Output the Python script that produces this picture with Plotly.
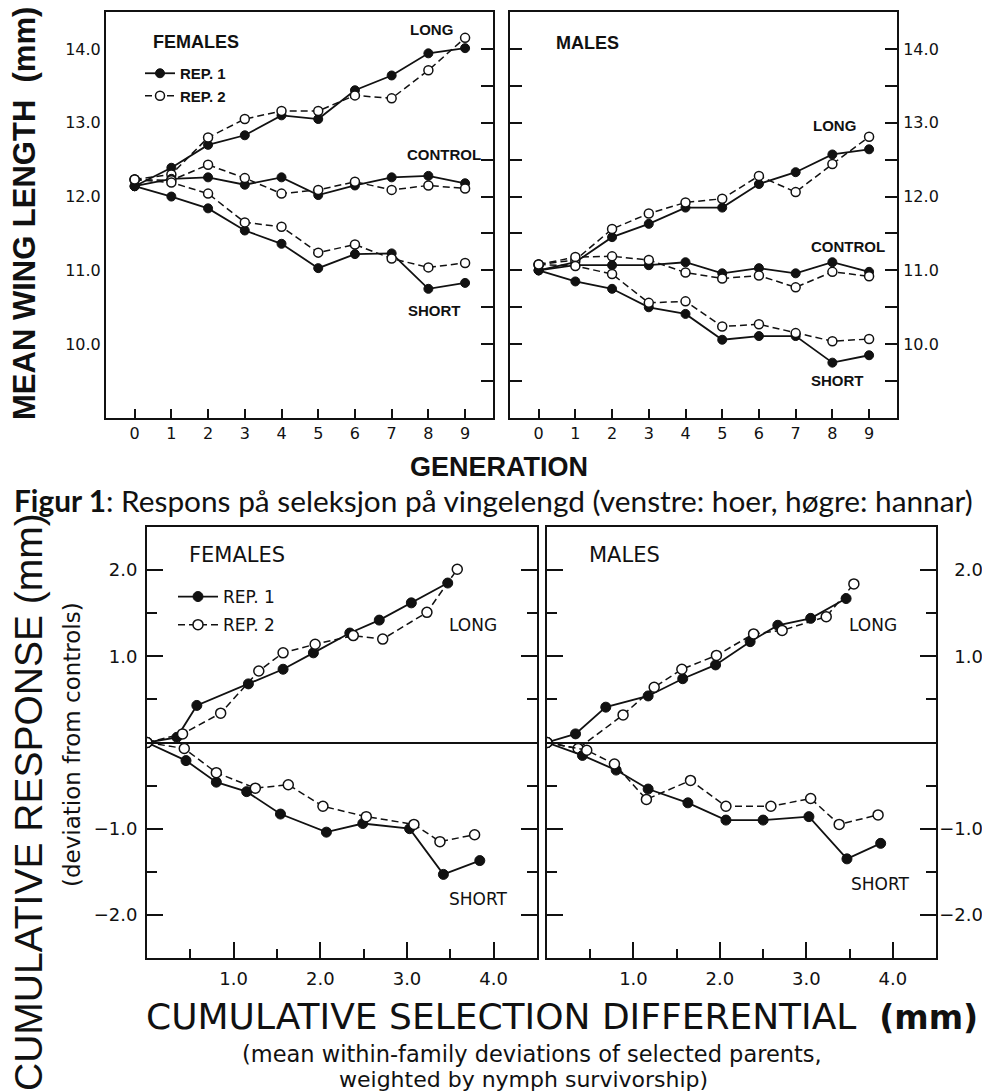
import plotly.graph_objects as go

# The page body has an 8px default margin, so the figure is sized to fill the
# remaining 982x1084 area of the 990x1092 window; all layout positions below are
# given in window pixels and converted with fx/fy.
PAGE_OFF = 8
W, H = 990 - PAGE_OFF, 1092 - PAGE_OFF

# ---------------- DATA ----------------
generations = [0, 1, 2, 3, 4, 5, 6, 7, 8, 9]

# Top-left: FEMALES mean wing length (mm)
f_long_rep1 = [12.14, 12.39, 12.70, 12.83, 13.10, 13.05, 13.44, 13.64, 13.94, 14.01]
f_long_rep2 = [12.23, 12.30, 12.80, 13.05, 13.16, 13.16, 13.37, 13.33, 13.71, 14.15]
f_ctrl_rep1 = [12.14, 12.24, 12.26, 12.16, 12.26, 12.02, 12.15, 12.26, 12.28, 12.18]
f_ctrl_rep2 = [12.23, 12.22, 12.43, 12.25, 12.04, 12.09, 12.20, 12.09, 12.15, 12.11]
f_short_rep1 = [12.14, 12.00, 11.84, 11.54, 11.36, 11.03, 11.22, 11.23, 10.75, 10.83]
f_short_rep2 = [12.23, 12.19, 12.04, 11.65, 11.59, 11.24, 11.35, 11.16, 11.04, 11.10]

# Top-right: MALES mean wing length (mm)
m_long_rep1 = [11.00, 11.11, 11.45, 11.63, 11.85, 11.85, 12.17, 12.33, 12.57, 12.64]
m_long_rep2 = [11.08, 11.14, 11.56, 11.77, 11.92, 11.97, 12.28, 12.06, 12.44, 12.81]
m_ctrl_rep1 = [11.00, 11.07, 11.07, 11.07, 11.11, 10.96, 11.03, 10.96, 11.11, 10.98]
m_ctrl_rep2 = [11.08, 11.18, 11.19, 11.14, 10.97, 10.89, 10.93, 10.77, 10.98, 10.92]
m_short_rep1 = [11.00, 10.85, 10.75, 10.50, 10.41, 10.06, 10.11, 10.11, 9.75, 9.85]
m_short_rep2 = [11.08, 11.06, 10.95, 10.56, 10.58, 10.24, 10.27, 10.15, 10.04, 10.07]

# Bottom-left: FEMALES cumulative selection differential (x) vs cumulative response (y)
fl1_x = [0, 0.345, 0.575, 1.17, 1.57, 1.92, 2.34, 2.68, 3.05, 3.47]
fl1_y = [0, 0.06, 0.43, 0.68, 0.85, 1.04, 1.27, 1.42, 1.62, 1.85]
fl2_x = [0, 0.41, 0.85, 1.29, 1.57, 1.94, 2.38, 2.72, 3.23, 3.58]
fl2_y = [0, 0.10, 0.34, 0.83, 1.04, 1.14, 1.24, 1.20, 1.51, 2.01]
fs1_x = [0, 0.45, 0.80, 1.15, 1.54, 2.07, 2.49, 3.03, 3.42, 3.84]
fs1_y = [0, -0.21, -0.46, -0.57, -0.83, -1.04, -0.94, -1.00, -1.53, -1.37]
fs2_x = [0, 0.43, 0.80, 1.25, 1.63, 2.03, 2.53, 3.08, 3.38, 3.78]
fs2_y = [0, -0.07, -0.35, -0.53, -0.49, -0.74, -0.86, -0.95, -1.15, -1.07]

# Bottom-right: MALES
ml1_x = [0, 0.33, 0.68, 1.17, 1.57, 1.95, 2.35, 2.67, 3.05, 3.46]
ml1_y = [0, 0.10, 0.41, 0.54, 0.74, 0.90, 1.17, 1.36, 1.44, 1.67]
ml2_x = [0, 0.36, 0.88, 1.24, 1.56, 1.96, 2.39, 2.72, 3.23, 3.55]
ml2_y = [0, -0.07, 0.32, 0.64, 0.85, 1.01, 1.26, 1.30, 1.46, 1.84]
ms1_x = [0, 0.41, 0.80, 1.17, 1.63, 2.07, 2.50, 3.03, 3.47, 3.86]
ms1_y = [0, -0.15, -0.32, -0.54, -0.70, -0.90, -0.90, -0.86, -1.35, -1.17]
ms2_x = [0, 0.46, 0.78, 1.15, 1.66, 2.07, 2.59, 3.05, 3.38, 3.83]
ms2_y = [0, -0.09, -0.25, -0.66, -0.44, -0.74, -0.74, -0.65, -0.95, -0.84]

top_y_ticks = [9.5, 10.0, 10.5, 11.0, 11.5, 12.0, 12.5, 13.0, 13.5, 14.0]
top_y_labels = ["" if v % 1 else f"{v:.1f}" for v in top_y_ticks]
bot_x_ticks = [1.0, 2.0, 3.0, 4.0]
bot_x_labels = [f"{v:.1f}" for v in bot_x_ticks]
bot_y_ticks = [-2.0, -1.0, 1.0, 2.0]
bot_y_labels = [f"{v:.1f}".replace("-", "\u2212") for v in bot_y_ticks]

# ---------------- HELPERS ----------------
def fx(p):
    return (p - PAGE_OFF) / W

def fy(p):
    return 1 - (p - PAGE_OFF) / H

HELV = "Liberation Sans, Arial, Helvetica, sans-serif"
WIDE = "DejaVu Sans, Verdana, sans-serif"
BLACK = "#111111"

fig = go.Figure()

def add_series(x, y, xa, ya, rep, name=None, legend=None, showlegend=False, msize=9):
    if rep == 1:
        line = dict(color=BLACK, width=1.8)
        marker = dict(symbol="circle", size=msize, color=BLACK, line=dict(color=BLACK, width=1))
    else:
        line = dict(color=BLACK, width=1.5, dash="7px,4px")
        marker = dict(symbol="circle", size=msize, color="white", line=dict(color=BLACK, width=1.5))
    kw = {}
    if legend:
        kw["legend"] = legend
    fig.add_trace(go.Scatter(x=x, y=y, xaxis=xa, yaxis=ya, mode="lines+markers",
                             line=line, marker=marker, name=name or "",
                             showlegend=showlegend, legendgroup=f"{legend}{rep}",
                             hoverinfo="skip", **kw))

# Top female
add_series(generations, f_long_rep1, "x", "y", 1, "REP. 1", "legend", True)
add_series(generations, f_long_rep2, "x", "y", 2, "REP. 2", "legend", True)
add_series(generations, f_ctrl_rep1, "x", "y", 1)
add_series(generations, f_ctrl_rep2, "x", "y", 2)
add_series(generations, f_short_rep1, "x", "y", 1)
add_series(generations, f_short_rep2, "x", "y", 2)
# Top male
add_series(generations, m_long_rep1, "x2", "y2", 1)
add_series(generations, m_long_rep2, "x2", "y2", 2)
add_series(generations, m_ctrl_rep1, "x2", "y2", 1)
add_series(generations, m_ctrl_rep2, "x2", "y2", 2)
add_series(generations, m_short_rep1, "x2", "y2", 1)
add_series(generations, m_short_rep2, "x2", "y2", 2)
# Bottom female
add_series(fl1_x, fl1_y, "x3", "y3", 1, "REP. 1", "legend2", True, 10)
add_series(fl2_x, fl2_y, "x3", "y3", 2, "REP. 2", "legend2", True, 10)
add_series(fs1_x, fs1_y, "x3", "y3", 1, msize=10)
add_series(fs2_x, fs2_y, "x3", "y3", 2, msize=10)
# Bottom male
add_series(ml1_x, ml1_y, "x4", "y4", 1, msize=10)
add_series(ml2_x, ml2_y, "x4", "y4", 2, msize=10)
add_series(ms1_x, ms1_y, "x4", "y4", 1, msize=10)
add_series(ms2_x, ms2_y, "x4", "y4", 2, msize=10)
# empty traces that activate the overlay axes
fig.add_trace(go.Scatter(x=[None], y=[None], xaxis="x", yaxis="y5", showlegend=False, hoverinfo="skip"))
fig.add_trace(go.Scatter(x=[None], y=[None], xaxis="x4", yaxis="y6", showlegend=False, hoverinfo="skip"))

top_tickfont = dict(family=WIDE, size=16, color=BLACK)
bot_tickfont = dict(family=WIDE, size=18, color=BLACK)
common_axis = dict(showline=True, linecolor=BLACK, linewidth=2, showgrid=False,
                   zeroline=False, tickcolor=BLACK)

top_x = dict(common_axis, range=[-0.78, 9.76], tickvals=generations, ticks="inside",
             ticklen=9, tickwidth=1.5, mirror=True, ticklabelstandoff=0, tickfont=top_tickfont)
top_y_dom = [fy(418), fy(12)]
bot_y_dom = [fy(958), fy(527)]

bot_minor_x = dict(dtick=0.5, tick0=0, ticks="inside", ticklen=9, tickwidth=1.5, tickcolor=BLACK)
bot_minor_y = dict(dtick=0.5, tick0=0, ticks="inside", ticklen=10, tickwidth=1.5, tickcolor=BLACK)

fig.update_layout(
    width=W, height=H, margin=dict(l=0, r=0, t=0, b=0),
    paper_bgcolor="white", plot_bgcolor="white",
    xaxis=dict(top_x, domain=[fx(106), fx(493)], anchor="y"),
    yaxis=dict(common_axis, domain=top_y_dom, anchor="x", range=[9.0, 14.5],
               tickvals=top_y_ticks, ticktext=top_y_labels, ticks="", mirror=True,
               ticklabelstandoff=0, tickfont=top_tickfont),
    yaxis5=dict(common_axis, domain=top_y_dom, anchor="x", overlaying="y", side="right",
                range=[9.0, 14.5], tickvals=top_y_ticks, ticks="inside", ticklen=12,
                tickwidth=1.5, showticklabels=False),
    xaxis2=dict(top_x, domain=[fx(510), fx(897)], anchor="y2"),
    yaxis2=dict(common_axis, domain=top_y_dom, anchor="x2", side="right", range=[9.0, 14.5],
                tickvals=top_y_ticks, ticktext=top_y_labels, ticks="inside", ticklen=12,
                tickwidth=1.5, mirror="allticks", ticklabelstandoff=1, tickfont=top_tickfont),
    xaxis3=dict(common_axis, domain=[fx(147), fx(537)], anchor="y3", range=[0, 4.5],
                tickvals=bot_x_ticks, ticktext=bot_x_labels, ticks="inside", ticklen=16,
                tickwidth=1.5, mirror=True, minor=bot_minor_x, ticklabelstandoff=3,
                tickfont=bot_tickfont),
    yaxis3=dict(common_axis, domain=bot_y_dom, anchor="x3", range=[-2.5, 2.5],
                tickvals=bot_y_ticks, ticktext=bot_y_labels, ticks="inside", ticklen=16,
                tickwidth=1.5, mirror="allticks", minor=bot_minor_y,
                zeroline=True, zerolinecolor=BLACK, zerolinewidth=1.6,
                ticklabelstandoff=4, tickfont=bot_tickfont),
    xaxis4=dict(common_axis, domain=[fx(547), fx(936)], anchor="y4", range=[0, 4.5],
                tickvals=bot_x_ticks, ticktext=bot_x_labels, ticks="inside", ticklen=16,
                tickwidth=1.5, mirror=True, minor=bot_minor_x, ticklabelstandoff=3,
                tickfont=bot_tickfont),
    yaxis4=dict(common_axis, domain=bot_y_dom, anchor="x4", side="right",
                range=[-2.5, 2.5], tickvals=bot_y_ticks, showticklabels=False,
                ticks="inside", ticklen=16, tickwidth=1.5, mirror="allticks", minor=bot_minor_y,
                zeroline=True, zerolinecolor=BLACK, zerolinewidth=1.6),
    # right-aligned tick labels at the far right of the bottom male panel
    yaxis6=dict(overlaying="y4", anchor="free", position=fx(983), side="left",
                range=[-2.5, 2.5], tickvals=bot_y_ticks, ticktext=bot_y_labels,
                ticks="", showline=False, showgrid=False, zeroline=False,
                tickfont=bot_tickfont, ticklabelstandoff=0),
    legend=dict(x=fx(140), y=fy(57), xanchor="left", yanchor="top", bgcolor="rgba(0,0,0,0)",
                font=dict(family=HELV, size=15, color=BLACK, weight="bold"),
                itemwidth=30, tracegroupgap=0),
    legend2=dict(x=fx(173), y=fy(579), xanchor="left", yanchor="top", bgcolor="rgba(0,0,0,0)",
                 font=dict(family=WIDE, size=17, color=BLACK),
                 itemwidth=40, traceorder="grouped", tracegroupgap=3),
)

def txt(text, x, y, size, bold=False, xanchor="left", angle=0, family=HELV, yanchor="middle"):
    fig.add_annotation(text=f"<b>{text}</b>" if bold else text, x=fx(x), y=fy(y),
                       xref="paper", yref="paper", xanchor=xanchor, yanchor=yanchor,
                       showarrow=False, textangle=angle,
                       font=dict(family=family, size=size, color=BLACK))

# Top panel texts
txt("FEMALES", 151, 42, 18, True)
txt("LONG", 408, 29, 15, True)
txt("CONTROL", 405, 154, 15, True)
txt("SHORT", 406, 310, 15, True)
txt("MALES", 554, 43, 18, True)
txt("LONG", 811, 126, 15, True)
txt("CONTROL", 809, 247, 15, True)
txt("SHORT", 809, 381, 15, True)
txt("MEAN WING LENGTH  (mm)", 25, 214, 31, True, xanchor="center", angle=-90)
txt("GENERATION", 499, 467, 27, True, xanchor="center")

# Caption
txt("<b>Figur 1</b>: Respons på seleksjon på vingelengd (venstre: hoer, høgre: hannar)",
    12, 500, 29.8, False, family="Lato, Carlito, Calibri, sans-serif")

# Bottom panel texts
txt("FEMALES", 187, 555, 21, family=WIDE)
txt("MALES", 587, 555, 21, family=WIDE)
txt("LONG", 447, 625, 17, family=WIDE)
txt("SHORT", 447, 899, 17, family=WIDE)
txt("LONG", 847, 625, 17, family=WIDE)
txt("SHORT", 849, 884, 17, family=WIDE)
txt("CUMULATIVE RESPONSE (mm)", 28, 802, 39, xanchor="center", angle=-90)
txt("(deviation from controls)", 72, 745, 23, xanchor="center", angle=-90, family=WIDE)
txt("CUMULATIVE SELECTION DIFFERENTIAL  <b><span style='font-size:33px'>(mm)</span></b>",
    144, 1016, 36, family=WIDE)
txt("(mean within-family deviations of selected parents,", 532, 1054, 22.5,
    xanchor="center", family=WIDE)
txt("weighted by nymph survivorship)", 523, 1079, 22, xanchor="center", family=WIDE)

fig.write_html("out.html")
